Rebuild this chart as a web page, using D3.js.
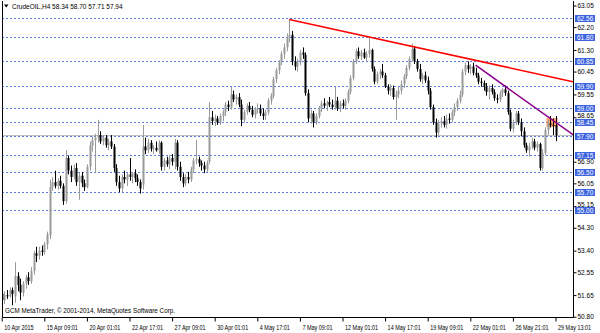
<!DOCTYPE html>
<html>
<head>
<meta charset="utf-8">
<script src="https://cdn.jsdelivr.net/npm/d3@7/dist/d3.min.js"></script>
<style>
body { margin: 0; background: #fff; }
text { font-family: "Liberation Sans", Arial, sans-serif; }
</style>
</head>
<body>
<script>

const symbol = "CrudeOIL,H4";
const lastQuote = [58.34, 58.70, 57.71, 57.94];

// H4 candles: [open, high, low, close]
const candles = [
  [51.70,51.90,51.25,51.45],[51.45,51.80,51.30,51.65],[51.65,51.85,51.50,51.60],[51.60,51.95,51.55,51.85],
  [51.85,51.95,51.25,51.70],[51.60,52.95,51.35,52.40],[52.40,52.55,51.80,52.05],[52.05,52.30,51.45,51.75],
  [51.75,52.20,51.60,52.10],[52.10,52.45,51.90,52.35],[52.35,52.55,52.05,52.20],[52.20,52.75,52.10,52.60],
  [52.60,53.40,52.45,53.30],[53.30,53.55,52.95,53.20],[53.20,53.55,53.05,53.40],[53.40,53.60,53.20,53.35],
  [53.35,53.75,53.25,53.65],[53.65,54.15,53.45,54.05],[54.00,56.20,53.85,55.90],[55.90,56.30,55.75,56.10],
  [56.10,56.55,55.85,55.95],[55.95,56.25,55.80,56.15],[56.15,56.35,55.85,55.95],[55.95,56.05,55.20,55.35],
  [55.35,57.35,55.25,57.05],[57.05,57.15,56.40,56.55],[56.55,56.75,56.10,56.30],[56.30,56.80,56.20,56.65],
  [56.65,56.85,55.95,56.10],[56.10,56.45,55.40,56.35],[56.35,56.50,55.90,56.05],[56.05,56.20,55.75,55.90],
  [55.90,56.80,55.85,56.70],[56.70,57.70,56.55,57.55],[57.55,57.90,57.30,57.75],[57.75,58.00,56.45,57.85],
  [57.85,58.55,57.65,57.95],[57.95,58.10,57.60,57.70],[57.70,57.95,57.55,57.85],[57.85,57.95,57.45,57.55],
  [57.55,57.80,57.35,57.70],[57.70,57.95,57.40,57.50],[57.50,57.60,56.50,56.65],[56.65,56.80,55.95,56.10],
  [56.10,56.35,55.70,55.85],[55.85,56.40,55.70,56.30],[56.30,56.55,56.05,56.20],[56.20,56.45,55.95,56.40],
  [56.40,57.05,56.15,56.30],[56.30,56.50,56.05,56.45],[56.45,56.60,56.10,56.25],[56.25,56.40,55.95,56.10],
  [56.10,56.20,55.65,55.85],[56.00,58.35,55.80,57.50],[57.50,57.85,57.20,57.35],[57.35,57.80,57.25,57.65],
  [57.65,57.75,57.30,57.40],[57.40,57.55,57.20,57.45],[57.45,57.70,57.30,57.35],[57.35,57.75,57.20,57.65],
  [57.65,57.70,56.55,56.70],[56.70,57.05,56.55,56.95],[56.95,57.10,56.70,56.80],[56.80,57.15,56.60,57.05],
  [57.05,57.20,56.75,56.90],[56.90,57.80,56.60,57.65],[57.65,57.75,56.55,56.70],[56.70,56.90,56.15,56.30],
  [56.30,56.45,55.90,56.05],[56.05,56.40,55.95,56.30],[56.30,56.50,56.05,56.20],[56.20,56.70,56.10,56.60],
  [56.60,57.05,56.45,56.95],[56.95,57.75,56.80,57.00],[57.00,57.10,56.70,56.85],[56.85,56.95,56.55,56.75],
  [56.75,56.90,56.45,56.60],[56.60,56.95,56.50,56.85],[56.90,59.25,56.80,58.65],[58.65,58.90,58.35,58.50],
  [58.50,58.75,58.30,58.60],[58.60,58.70,58.35,58.45],[58.45,58.80,58.35,58.70],[58.70,58.95,58.50,58.85],
  [58.85,59.25,58.70,59.15],[59.15,59.30,58.90,59.05],[59.05,59.85,58.95,59.55],[59.55,59.70,59.25,59.35],
  [59.35,59.55,59.15,59.45],[59.45,59.60,59.05,59.15],[59.15,59.35,58.30,58.55],[58.55,58.95,58.45,58.85],
  [58.85,59.20,58.75,59.10],[59.10,59.25,58.85,58.95],[58.95,59.10,58.65,58.75],[58.75,59.05,58.60,58.95],
  [58.95,59.20,58.80,59.00],[59.00,59.15,58.70,58.80],[58.80,59.00,58.55,58.70],[58.70,58.95,58.55,58.85],
  [58.85,59.40,58.75,59.30],[59.30,59.60,59.15,59.50],[59.50,60.25,59.40,60.15],[60.15,60.60,60.00,60.50],
  [60.50,60.90,60.35,60.80],[60.80,61.25,60.70,61.15],[61.15,61.55,60.95,61.40],[61.40,61.95,61.25,61.80],
  [61.80,62.50,61.60,61.90],[61.90,62.05,60.70,60.85],[60.85,61.05,60.50,60.65],[60.65,60.95,60.45,60.80],
  [60.80,61.30,60.70,61.20],[61.20,61.40,60.95,61.10],[61.10,61.20,59.50,59.60],[59.60,59.75,58.45,58.60],
  [58.60,58.95,58.40,58.80],[58.80,58.90,58.25,58.45],[58.45,58.80,58.35,58.70],[58.70,59.10,58.60,59.00],
  [59.00,59.30,58.85,59.20],[59.20,59.40,59.00,59.10],[59.10,59.30,58.90,59.25],[59.25,59.45,59.05,59.15],
  [59.15,59.35,58.95,59.05],[59.05,59.85,58.95,59.30],[59.30,59.45,58.90,59.00],[59.00,59.30,58.85,59.20],
  [59.20,59.35,59.00,59.10],[59.10,59.40,58.95,59.30],[59.30,59.75,59.20,59.65],[59.65,60.30,59.55,60.20],
  [60.20,60.95,60.10,60.85],[60.85,61.35,60.75,61.25],[61.25,61.40,60.95,61.05],[61.05,61.30,60.90,61.20],
  [61.20,61.35,60.95,61.00],[61.00,61.25,60.85,61.15],[61.15,61.80,61.00,61.30],[61.30,61.35,60.45,60.55],
  [60.55,60.65,59.95,60.05],[60.05,60.45,59.95,60.35],[60.35,60.55,60.15,60.45],[60.45,60.75,60.20,60.30],
  [60.30,60.40,59.80,59.85],[59.85,59.95,59.55,59.70],[59.70,59.95,59.50,59.80],[59.80,59.90,59.35,59.45],
  [59.45,59.70,58.55,59.55],[59.55,59.85,59.40,59.70],[59.70,60.10,59.55,59.95],[59.95,60.35,59.80,60.25],
  [60.25,60.70,60.15,60.60],[60.60,61.05,60.50,60.95],[60.95,61.55,60.85,61.35],[61.35,61.45,60.75,60.85],
  [60.85,60.95,60.45,60.55],[60.55,60.75,60.05,60.15],[60.15,60.40,59.95,60.30],[60.30,60.45,60.00,60.10],
  [60.10,60.25,59.55,59.70],[59.70,59.80,58.95,59.05],[59.05,59.15,58.35,58.45],[58.45,58.60,57.85,58.05],
  [58.05,58.55,57.95,58.40],[58.40,58.65,58.25,58.50],[58.50,58.70,58.25,58.35],[58.35,58.75,58.20,58.60],
  [58.60,58.80,58.40,58.55],[58.55,58.95,58.45,58.85],[58.85,59.20,58.70,59.05],[59.05,59.40,58.90,59.30],
  [59.30,59.70,59.20,59.55],[59.55,60.55,59.45,60.45],[60.45,60.80,60.30,60.70],[60.70,60.85,60.40,60.55],
  [60.55,60.75,60.35,60.65],[60.65,60.80,60.30,60.40],[60.40,60.60,60.20,60.30],[60.30,60.40,59.95,60.05],
  [60.05,60.20,59.85,60.00],[60.00,60.10,59.70,59.85],[59.85,60.00,59.50,59.65],[59.65,59.90,59.35,59.80],
  [59.80,59.95,59.55,59.65],[59.65,59.75,59.30,59.40],[59.40,59.55,59.20,59.35],[59.35,59.70,59.25,59.60],
  [59.60,59.80,59.45,59.75],[59.75,59.90,59.50,59.60],[59.60,59.70,58.75,58.85],[58.85,58.95,58.10,58.20],
  [58.20,58.55,58.05,58.45],[58.45,58.90,58.35,58.80],[58.80,58.90,58.35,58.45],[58.45,58.60,57.90,58.10],
  [58.10,58.25,57.45,57.55],[57.55,57.65,57.25,57.35],[57.35,57.65,57.10,57.50],[57.50,57.85,57.40,57.70],
  [57.70,57.80,57.35,57.45],[57.45,57.70,57.30,57.60],[57.60,57.65,56.55,56.65],[56.65,57.40,56.55,57.25],
  [57.25,58.25,57.15,58.15],[58.15,58.55,57.95,58.40],[58.40,58.70,58.25,58.35],[58.35,58.60,57.95,58.34],
  [58.34,58.70,57.71,57.94]
];

const timeLabels = ["10 Apr 2015", "15 Apr 09:01", "20 Apr 01:01", "22 Apr 17:01", "27 Apr 09:01",
  "30 Apr 01:01", "4 May 17:01", "7 May 09:01", "12 May 01:01", "14 May 17:01", "19 May 09:01",
  "22 May 01:01", "26 May 21:01", "29 May 13:01"];
const barsPerLabel = 16;

const priceTicks = [63.05, 62.20, 61.30, 60.45, 59.55, 58.65, 56.90, 56.05, 55.15, 54.30, 53.40, 52.55, 51.65, 50.80];
const levels = [62.56, 61.80, 60.85, 59.90, 59.00, 58.45, 57.90, 57.15, 56.50, 55.70, 55.00];

// trend lines: two anchor points [bar, price], drawn as rays to the right edge
const redLine = [[108, 62.50], [155, 61.42]];
const purpleLine = [[178, 60.70], [205, 58.68]];

// highlighted box on the last bars: [bar from, bar to, price top, price bottom]
const zone = [204.6, 208.8, 58.62, 58.27];

const W = 600, H = 333;
const plot = {left: 2, right: 573, top: 1, bottom: 317};

const svg = d3.select("body").append("svg")
  .attr("width", W).attr("height", H);

const x = d3.scaleLinear()
  .domain([0, barsPerLabel * (timeLabels.length - 1)])
  .range([1.7, 555.5]);
const y = d3.scaleLinear()
  .domain([50.80, 63.05])
  .range([316.7, 5.5]);

svg.append("defs").append("clipPath").attr("id", "clip")
  .append("rect")
  .attr("x", plot.left).attr("y", plot.top)
  .attr("width", plot.right - plot.left).attr("height", plot.bottom - plot.top);

const g = svg.append("g").attr("clip-path", "url(#clip)");

// level lines
g.selectAll(".lvl").data(levels).enter().append("line")
  .attr("x1", plot.left).attr("x2", plot.right)
  .attr("y1", d => Math.round(y(d)) + 0.5).attr("y2", d => Math.round(y(d)) + 0.5)
  .attr("stroke", "#5a78e6").attr("stroke-dasharray", "2,2");

// bid line
g.append("line")
  .attr("x1", plot.left).attr("x2", plot.right)
  .attr("y1", Math.round(y(lastQuote[3])) + 0.5).attr("y2", Math.round(y(lastQuote[3])) + 0.5)
  .attr("stroke", "#c0c0c0");

// zone
g.append("rect")
  .attr("x", x(zone[0])).attr("width", x(zone[1]) - x(zone[0]))
  .attr("y", y(zone[2])).attr("height", y(zone[3]) - y(zone[2]))
  .attr("fill", "#ff8a3d").attr("opacity", 0.75);

// candles
const upCol = "#9a9a9a", downCol = "#000";
const cg = g.append("g");
cg.selectAll(".wick").data(candles).enter().append("line")
  .attr("x1", (d, i) => Math.round(x(i)) + 0.5).attr("x2", (d, i) => Math.round(x(i)) + 0.5)
  .attr("y1", d => y(d[1])).attr("y2", d => y(d[2]))
  .attr("stroke", d => d[3] >= d[0] ? upCol : downCol);
cg.selectAll(".body").data(candles).enter().append("rect")
  .attr("x", (d, i) => Math.round(x(i)) - 0.5).attr("width", 2)
  .attr("y", d => y(Math.max(d[0], d[3])))
  .attr("height", d => Math.max(1, Math.abs(y(d[0]) - y(d[3]))))
  .attr("fill", d => d[3] >= d[0] ? upCol : downCol);

// trend lines
function ray(pts, color) {
  const [[b1, p1], [b2, p2]] = pts;
  const slope = (p2 - p1) / (b2 - b1);
  const bEnd = x.invert(plot.right);
  g.append("line")
    .attr("x1", x(b1)).attr("y1", y(p1))
    .attr("x2", x(bEnd)).attr("y2", y(p1 + slope * (bEnd - b1)))
    .attr("stroke", color).attr("stroke-width", 1.5);
}
ray(redLine, "#ff0000");
ray(purpleLine, "#8b008b");

// frame
svg.append("path")
  .attr("d", `M${plot.left + 0.5},${plot.top}V${plot.bottom + 0.5}H${plot.right + 0.5}V${plot.top}`)
  .attr("fill", "none").attr("stroke", "#000");

// price axis
const yAxis = d3.axisRight(y).tickValues(priceTicks).tickFormat(d3.format(".2f")).tickSize(3).tickPadding(1);
const ya = svg.append("g").attr("transform", `translate(${plot.right + 0.5},0)`).call(yAxis);
ya.select(".domain").remove();
ya.selectAll("text").attr("font-size", 6.5).attr("font-family", "Liberation Sans, Arial, sans-serif").attr("fill", "#000")
  .attr("dy", "0.32em");
// labels that sit right next to a level box are nudged up a little
ya.selectAll(".tick").filter(d => levels.some(l => l < d && d - l < 0.25))
  .select("text").attr("y", -2);

// level labels
const lab = svg.append("g").selectAll("g").data(levels).enter().append("g")
  .attr("transform", d => `translate(${plot.right + 1},${Math.round(y(d))})`);
lab.append("rect").attr("x", 1).attr("y", -3).attr("width", 20).attr("height", 7).attr("fill", "#3d65e0");
lab.append("text").attr("x", 3).attr("y", 0.5).attr("dy", "0.34em").attr("font-size", 6.5).attr("fill", "#fff")
  .text(d => d.toFixed(2));

// time axis
const xAxis = d3.axisBottom(x)
  .tickValues(timeLabels.map((d, i) => i * barsPerLabel))
  .tickFormat((d, i) => timeLabels[i]).tickSize(4);
const xa = svg.append("g").attr("transform", `translate(0,${plot.bottom + 0.5})`).call(xAxis);
xa.select(".domain").remove();
xa.selectAll("text").attr("font-size", 6.5).attr("font-family", "Liberation Sans, Arial, sans-serif")
  .attr("fill", "#000").attr("text-anchor", "start").attr("x", 2).attr("dy", "0.9em")
  .each(function() {
    const w = this.getComputedTextLength();
    d3.select(this).attr("textLength", w * 0.84).attr("lengthAdjust", "spacingAndGlyphs");
  });

// header
svg.append("path").attr("d", "M4,4.5h4.5l-2.25,3z").attr("fill", "#000");
svg.append("text").attr("x", 12).attr("y", 8.5).attr("font-size", 6.5)
  .text(`${symbol}  ${lastQuote.map(d => d.toFixed(2)).join(" ")}`);

// copyright
svg.append("text").attr("x", 5).attr("y", 313).attr("font-size", 6.5)
  .attr("textLength", 170).attr("lengthAdjust", "spacingAndGlyphs")
  .text("GCM MetaTrader, \u00a9 2001-2014, MetaQuotes Software Corp.");

</script>
</body>
</html>
